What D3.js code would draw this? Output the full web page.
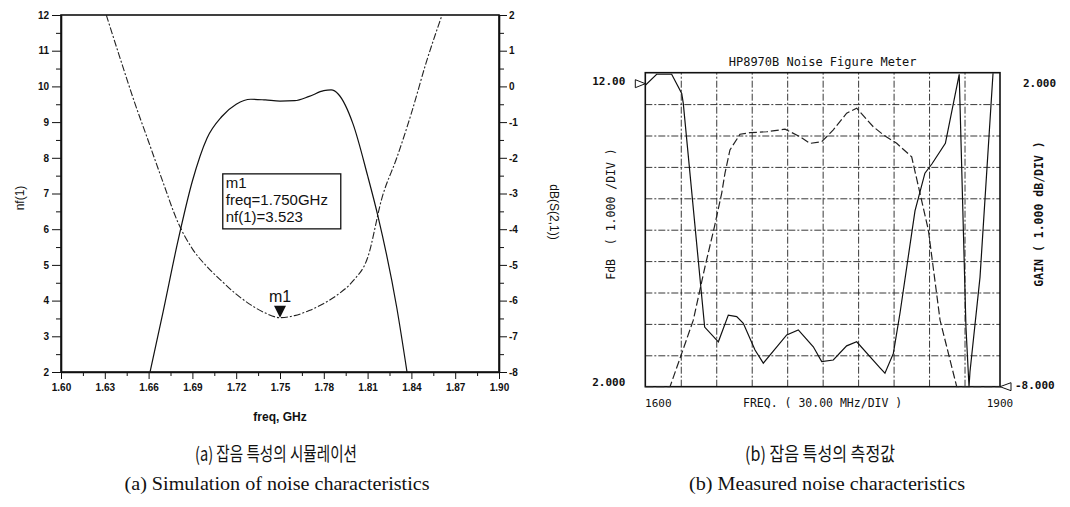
<!DOCTYPE html>
<html>
<head>
<meta charset="utf-8">
<script src="https://cdn.jsdelivr.net/npm/d3@7"></script>
<style>
  html, body { margin: 0; padding: 0; background: #fff; }
  svg { display: block; }
  .sim text { font-family: "Liberation Sans", Arial, sans-serif; fill: #111; }
  .meter text { font-family: "DejaVu Sans Mono", "Liberation Mono", monospace; fill: #111; }
  .axis path, .axis line { stroke: #111; }
  .grid line { stroke: #222; stroke-width: 0.9; stroke-dasharray: 7,2,2,2; }
  .grid path { display: none; }
</style>
</head>
<body>
<div id="chart"></div>
<script>
// (a) simulation: nf(1) on left axis, dB(S(2,1)) on right axis
const nfFreq = [1.631, 1.64, 1.65, 1.66, 1.67, 1.68, 1.69, 1.70, 1.71, 1.72, 1.73, 1.74, 1.75,
  1.76, 1.77, 1.78, 1.79, 1.80, 1.81, 1.82, 1.83, 1.84, 1.85, 1.861];
const nfValues = [12.0, 10.85, 9.6, 8.45, 7.3, 6.2, 5.45, 4.95, 4.55, 4.18, 3.88, 3.65, 3.523,
  3.58, 3.72, 3.92, 4.18, 4.55, 5.2, 6.9, 8.0, 9.25, 10.65, 12.0];

const s21Freq = [1.661, 1.67, 1.68, 1.69, 1.70, 1.71, 1.72, 1.73, 1.74, 1.75, 1.76, 1.77, 1.78,
  1.785, 1.79, 1.80, 1.81, 1.817, 1.83, 1.837];
const s21Values = [-8.0, -6.3, -4.35, -2.65, -1.45, -0.85, -0.5, -0.36, -0.38, -0.41, -0.4, -0.28,
  -0.12, -0.1, -0.22, -1.05, -2.5, -3.62, -6.2, -8.0];

const simFreqTicks = [1.60, 1.63, 1.66, 1.69, 1.72, 1.75, 1.78, 1.81, 1.84, 1.87, 1.90];
const nfTicks = [2, 3, 4, 5, 6, 7, 8, 9, 10, 11, 12];
const s21Ticks = [2, 1, 0, -1, -2, -3, -4, -5, -6, -7, -8];
const markerFreq = 1.75;
const markerNf = 3.523;

// (b) measured on the noise figure meter
const fdbFreq = [1600, 1609.6, 1622.3, 1630.8, 1632.1, 1650.2, 1661.8, 1670.2, 1677.3, 1682.9,
  1692.8, 1699.8, 1719.6, 1729.4, 1742.1, 1749.2, 1759.0, 1770.3, 1778.8, 1798.5, 1802.7, 1809.8,
  1815.4, 1828.1, 1836.5, 1842.5, 1853.8, 1865.5, 1871.2, 1873.8, 1874.6, 1883.1, 1894.1];
const fdbValues = [11.6, 11.95, 11.95, 11.34, 11.03, 3.9, 3.43, 4.28, 4.23, 4.02,
  3.17, 2.75, 3.65, 3.81, 3.27, 2.8, 2.85, 3.3, 3.43, 2.6, 2.43, 3.06,
  4.34, 7.6, 8.8, 9.1, 9.75, 11.95, 3.9, 2.0, 2.47, 5.49, 11.98];

const gainFreq = [1600, 1620.9, 1630.8, 1640.6, 1650.5, 1658.5, 1664.6, 1667.4, 1671.6, 1680.1,
  1688.6, 1702.7, 1718.2, 1730.9, 1739.3, 1749.2, 1759.0, 1770.3, 1778.8, 1792.8, 1801.4, 1812.6,
  1825.3, 1839.4, 1849.3, 1863.4, 1900];
const gainValues = [-8, -8, -6.94, -5.88, -4.18, -2.9, -1.84, -1.2, -0.46, 0.04,
  0.09, 0.12, 0.2, -0.04, -0.25, -0.2, 0.18, 0.71, 0.87, 0.28, 0.02, -0.25,
  -0.68, -3.01, -5.88, -8, -8];

const meterFreqGrid = [1630, 1660, 1690, 1720, 1750, 1780, 1810, 1840, 1870];
const meterFdbGrid = [3, 4, 5, 6, 7, 8, 9, 10, 11];
const fdbTickValues = [2, 12];
const fdbTickLabels = ["2.000", "12.00"];
const gainTickValues = [-8, 2];
const gainTickLabels = ["-8.000", "2.000"];
const meterFreqLabels = [1600, 1900];

const svg = d3.select("#chart")
  .append("svg")
  .attr("width", 1070)
  .attr("height", 507);

function zip(xs, ys) {
  return xs.map((x, i) => [x, ys[i]]);
}

function drawSimulation() {
  const left = 61, right = 499, top = 15, bottom = 372;
  const x = d3.scaleLinear().domain([1.60, 1.90]).range([left, right]);
  const yNf = d3.scaleLinear().domain([2, 12]).range([bottom, top]);
  const yS21 = d3.scaleLinear().domain([-8, 2]).range([bottom, top]);

  const g = svg.append("g").attr("class", "sim");

  g.append("clipPath").attr("id", "clip-sim")
    .append("rect")
    .attr("x", left).attr("y", top)
    .attr("width", right - left).attr("height", bottom - top);

  // minor ticks
  const minorX = d3.range(1.615, 1.9, 0.03);
  const minorY = d3.range(2.5, 12, 1);

  g.append("g").attr("class", "axis")
    .attr("transform", `translate(0,${bottom})`)
    .call(d3.axisBottom(x).tickValues(minorX).tickSize(4).tickFormat(""))
    .call((a) => a.select(".domain").remove());
  g.append("g").attr("class", "axis")
    .attr("transform", `translate(${left},0)`)
    .call(d3.axisLeft(yNf).tickValues(minorY).tickSize(5).tickFormat(""))
    .call((a) => a.select(".domain").remove());
  g.append("g").attr("class", "axis")
    .attr("transform", `translate(${right},0)`)
    .call(d3.axisRight(yS21).tickValues(minorY.map((v) => v - 10)).tickSize(5).tickFormat(""))
    .call((a) => a.select(".domain").remove());

  const xAxis = g.append("g").attr("class", "axis")
    .attr("transform", `translate(0,${bottom})`)
    .call(d3.axisBottom(x).tickValues(simFreqTicks).tickSize(7).tickSizeOuter(0).tickPadding(5)
      .tickFormat(d3.format(".2f")));
  xAxis.selectAll("text").attr("font-size", 10).attr("font-weight", "bold");

  const yAxis = g.append("g").attr("class", "axis")
    .attr("transform", `translate(${left},0)`)
    .call(d3.axisLeft(yNf).tickValues(nfTicks).tickSize(9).tickSizeOuter(0).tickPadding(3)
      .tickFormat(d3.format("d")));
  yAxis.selectAll("text").attr("font-size", 10).attr("font-weight", "bold");

  const yAxisR = g.append("g").attr("class", "axis")
    .attr("transform", `translate(${right},0)`)
    .call(d3.axisRight(yS21).tickValues(s21Ticks).tickSize(8).tickSizeOuter(0).tickPadding(2)
      .tickFormat((d) => String(d)));
  yAxisR.selectAll("text").attr("font-size", 10).attr("font-weight", "bold");

  g.selectAll(".axis .domain").attr("stroke-width", 1.6);

  g.append("rect")
    .attr("x", left).attr("y", top)
    .attr("width", right - left).attr("height", bottom - top)
    .attr("fill", "none").attr("stroke", "#111").attr("stroke-width", 1.6);

  const nfLine = d3.line().x((d) => x(d[0])).y((d) => yNf(d[1])).curve(d3.curveMonotoneX);
  const s21Line = d3.line().x((d) => x(d[0])).y((d) => yS21(d[1])).curve(d3.curveMonotoneX);

  const curves = g.append("g").attr("clip-path", "url(#clip-sim)");
  curves.append("path")
    .datum(zip(nfFreq, nfValues))
    .attr("d", nfLine)
    .attr("fill", "none")
    .attr("stroke", "#222")
    .attr("stroke-width", 1.1)
    .attr("stroke-dasharray", "7,2,2,2");
  curves.append("path")
    .datum(zip(s21Freq, s21Values))
    .attr("d", s21Line)
    .attr("fill", "none")
    .attr("stroke", "#111")
    .attr("stroke-width", 1.2);

  // marker m1
  const mx = x(markerFreq), my = yNf(markerNf);
  g.append("path")
    .attr("d", `M${mx - 6},${my - 12}L${mx + 6},${my - 12}L${mx},${my}Z`)
    .attr("fill", "#111");
  g.append("text")
    .attr("x", mx).attr("y", my - 16)
    .attr("text-anchor", "middle")
    .attr("font-size", 16)
    .text("m1");

  const boxX = x(1.7108), boxY = yNf(7.55);
  g.append("rect")
    .attr("x", boxX).attr("y", boxY)
    .attr("width", 118).attr("height", 55)
    .attr("fill", "#fff").attr("stroke", "#111").attr("stroke-width", 1.3);
  const boxLines = ["m1", `freq=${markerFreq.toFixed(3)}GHz`, `nf(1)=${markerNf.toFixed(3)}`];
  g.selectAll(".box-line")
    .data(boxLines)
    .join("text")
    .attr("class", "box-line")
    .attr("x", boxX + 3)
    .attr("y", (d, i) => boxY + 14 + i * 17)
    .attr("font-size", 15)
    .text((d) => d);

  g.append("text")
    .attr("x", (left + right) / 2).attr("y", 421)
    .attr("text-anchor", "middle")
    .attr("font-size", 12).attr("font-weight", "bold")
    .text("freq, GHz");
  g.append("text")
    .attr("transform", "translate(24,198) rotate(-90)")
    .attr("text-anchor", "middle")
    .attr("font-size", 12)
    .text("nf(1)");
  g.append("text")
    .attr("transform", "translate(550,212) rotate(90)")
    .attr("text-anchor", "middle")
    .attr("font-size", 12)
    .text("dB(S(2,1))");
}

function drawMeter() {
  const left = 645.3, right = 1000, top = 72.7, bottom = 386.7;
  const x = d3.scaleLinear().domain([1600, 1900]).range([left, right]);
  const yF = d3.scaleLinear().domain([2, 12]).range([bottom, top]);
  const yG = d3.scaleLinear().domain([-8, 2]).range([bottom, top]);

  const g = svg.append("g").attr("class", "meter");

  g.append("clipPath").attr("id", "clip-meter")
    .append("rect")
    .attr("x", left).attr("y", top - 1)
    .attr("width", right - left).attr("height", bottom - top + 2);

  g.append("g").attr("class", "grid")
    .attr("transform", `translate(0,${bottom})`)
    .call(d3.axisBottom(x).tickValues(meterFreqGrid).tickSize(-(bottom - top)).tickFormat(""));
  g.append("g").attr("class", "grid")
    .attr("transform", `translate(${left},0)`)
    .call(d3.axisLeft(yF).tickValues(meterFdbGrid).tickSize(-(right - left)).tickFormat(""));

  g.append("rect")
    .attr("x", left).attr("y", top)
    .attr("width", right - left).attr("height", bottom - top)
    .attr("fill", "none").attr("stroke", "#111").attr("stroke-width", 1.6);

  const line = (yScale) => d3.line().x((d) => x(d[0])).y((d) => yScale(d[1]));
  const traces = g.append("g").attr("clip-path", "url(#clip-meter)");
  traces.append("path")
    .datum(zip(gainFreq, gainValues))
    .attr("d", line(yG))
    .attr("fill", "none")
    .attr("stroke", "#222")
    .attr("stroke-width", 1.2)
    .attr("stroke-dasharray", "8,3");
  traces.append("path")
    .datum(zip(fdbFreq, fdbValues))
    .attr("d", line(yF))
    .attr("fill", "none")
    .attr("stroke", "#111")
    .attr("stroke-width", 1.2);

  // reference markers
  const ly = yF(11.65);
  g.append("path")
    .attr("d", `M${left - 10},${ly - 4}L${left},${ly}L${left - 10},${ly + 4}Z`)
    .attr("fill", "#fff").attr("stroke", "#111").attr("stroke-width", 1);
  const ry = yG(-8);
  g.append("path")
    .attr("d", `M${right + 11},${ry - 4}L${right},${ry}L${right + 11},${ry + 4}Z`)
    .attr("fill", "#fff").attr("stroke", "#111").attr("stroke-width", 1);

  g.selectAll(".fdb-label")
    .data(fdbTickValues)
    .join("text")
    .attr("class", "fdb-label")
    .attr("x", left - 20)
    .attr("y", (d) => yF(d) + (d === 12 ? 12 : -1))
    .attr("text-anchor", "end")
    .attr("font-size", 11).attr("font-weight", "bold")
    .text((d, i) => fdbTickLabels[i]);

  g.selectAll(".gain-label")
    .data(gainTickValues)
    .join("text")
    .attr("class", "gain-label")
    .attr("x", (d) => (d === 2 ? right + 23 : right + 15))
    .attr("y", (d) => yG(d) + (d === 2 ? 14 : 2))
    .attr("font-size", 11).attr("font-weight", "bold")
    .text((d, i) => gainTickLabels[i]);

  g.selectAll(".freq-label")
    .data(meterFreqLabels)
    .join("text")
    .attr("class", "freq-label")
    .attr("x", (d) => x(d) + (d === 1600 ? 13 : 0))
    .attr("y", bottom + 20)
    .attr("text-anchor", "middle")
    .attr("font-size", 11)
    .text((d) => d);

  g.append("text")
    .attr("x", x(1750)).attr("y", bottom + 20)
    .attr("text-anchor", "middle")
    .attr("font-size", 11.5)
    .text("FREQ. ( 30.00 MHz/DIV )");

  g.append("text")
    .attr("x", x(1750)).attr("y", top - 7)
    .attr("text-anchor", "middle")
    .attr("font-size", 12)
    .text("HP8970B Noise Figure Meter");

  g.append("text")
    .attr("transform", `translate(${left - 30},214) rotate(-90)`)
    .attr("text-anchor", "middle")
    .attr("font-size", 11.5)
    .attr("xml:space", "preserve")
    .text("FdB  ( 1.000 /DIV )");
  g.append("text")
    .attr("transform", `translate(${right + 43},214) rotate(-90)`)
    .attr("text-anchor", "middle")
    .attr("font-size", 11.5)
    .attr("font-weight", "bold")
    .text("GAIN ( 1.000 dB/DIV )");
}

function drawCaptions() {
  const captions = [
    { x: 276, y: 461, text: "(a) 잡음 특성의 시뮬레이션", len: 162, kr: true },
    { x: 277, y: 490, text: "(a) Simulation of noise characteristics", len: 305, kr: false },
    { x: 820, y: 461, text: "(b) 잡음 특성의 측정값", len: 150, kr: true },
    { x: 827, y: 490, text: "(b) Measured noise characteristics", len: 276, kr: false }
  ];
  svg.append("g")
    .selectAll("text")
    .data(captions)
    .join("text")
    .attr("x", (d) => d.x - d.len / 2)
    .attr("y", (d) => d.y)
    .attr("font-family", (d) => (d.kr ? "'Noto Sans CJK KR', sans-serif" : "'Liberation Serif', serif"))
    .attr("font-size", 19)
    .attr("textLength", (d) => d.len)
    .attr("lengthAdjust", "spacingAndGlyphs")
    .attr("fill", "#111")
    .text((d) => d.text);
}

drawSimulation();
drawMeter();
drawCaptions();
</script>
</body>
</html>
